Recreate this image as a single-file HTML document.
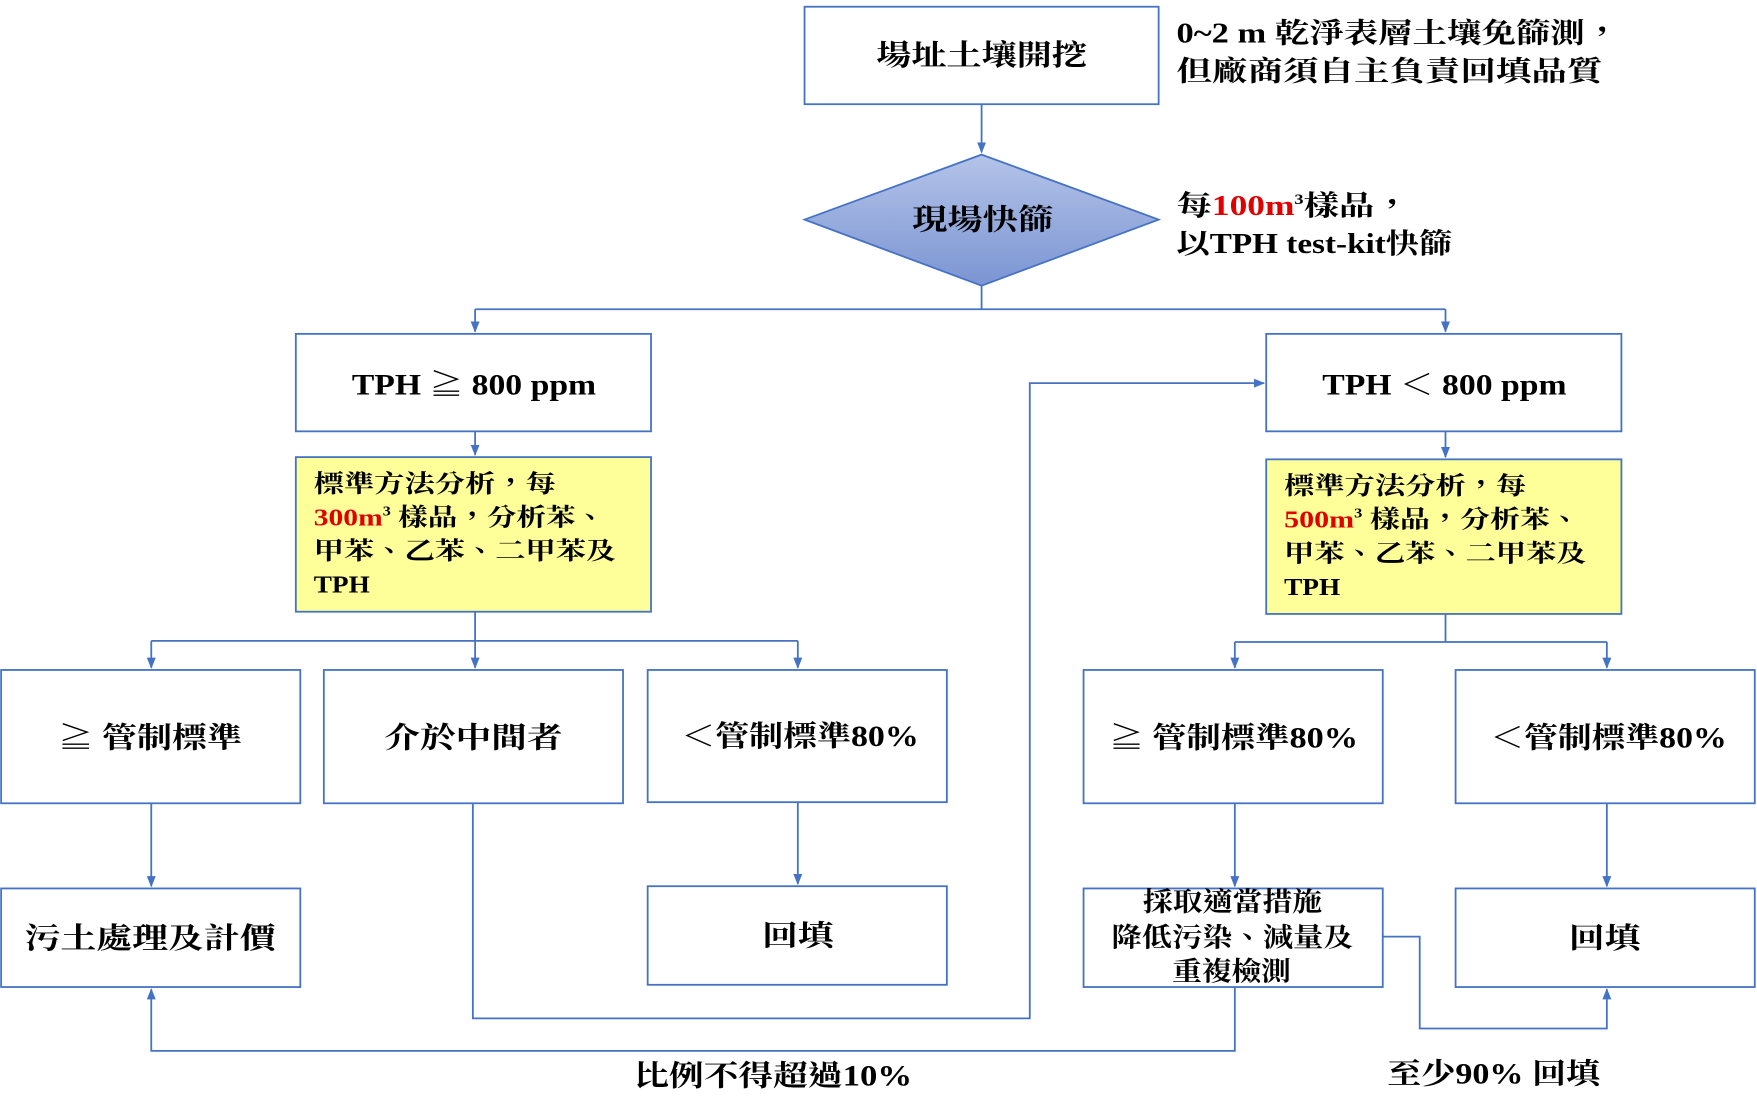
<!DOCTYPE html>
<html><head><meta charset="utf-8"><style>
html,body{margin:0;padding:0;background:#fff;}
svg{display:block;}
text{font-family:"Liberation Serif","Noto Serif CJK TC","Noto Serif CJK SC",serif;font-weight:bold;fill:#000;}
</style></head><body>
<svg width="1757" height="1117" viewBox="0 0 1568 997" preserveAspectRatio="none" xmlns="http://www.w3.org/2000/svg">
<defs>
<marker id="a" markerWidth="10" markerHeight="10" refX="9" refY="5" orient="auto" markerUnits="userSpaceOnUse">
<path d="M0,1 L10,5 L0,9 z" fill="#4472c4"/></marker>
<linearGradient id="g" x1="0" y1="0" x2="0" y2="1"><stop offset="0" stop-color="#b4c3e8"/><stop offset="1" stop-color="#7b95d3"/></linearGradient>
</defs>
<g fill="none" stroke="#4472c4" stroke-width="1.6">
<rect x="718" y="6" width="316" height="87" fill="#fff"/>
<polygon points="876,138 1034,196 876,255 718,196" fill="url(#g)"/>
<rect x="264" y="298" width="317" height="87"/>
<rect x="1130" y="298" width="317" height="87"/>
<rect x="264" y="408" width="317" height="138" fill="#ffff99"/>
<rect x="1130" y="410" width="317" height="138" fill="#ffff99"/>
<rect x="1" y="598" width="267" height="119"/>
<rect x="289" y="598" width="267" height="119"/>
<rect x="578" y="598" width="267" height="118"/>
<rect x="967" y="598" width="267" height="119"/>
<rect x="1299" y="598" width="267" height="119"/>
<rect x="1" y="793" width="267" height="88"/>
<rect x="578" y="791" width="267" height="88"/>
<rect x="967" y="793" width="267" height="88"/>
<rect x="1299" y="793" width="267" height="88"/>
<path d="M876,93 V136" marker-end="url(#a)"/>
<path d="M876,255 V276 M424,276 H1290"/>
<path d="M424,276 V296" marker-end="url(#a)"/>
<path d="M1290,276 V296" marker-end="url(#a)"/>
<path d="M424,385 V406" marker-end="url(#a)"/>
<path d="M1290,385 V408" marker-end="url(#a)"/>
<path d="M424,546 V572 M135,572 H712"/>
<path d="M135,572 V596" marker-end="url(#a)"/>
<path d="M424,572 V596" marker-end="url(#a)"/>
<path d="M712,572 V596" marker-end="url(#a)"/>
<path d="M1290,548 V573 M1102,573 H1434"/>
<path d="M1102,573 V596" marker-end="url(#a)"/>
<path d="M1434,573 V596" marker-end="url(#a)"/>
<path d="M135,717 V791" marker-end="url(#a)"/>
<path d="M712,716 V789" marker-end="url(#a)"/>
<path d="M1102,717 V791" marker-end="url(#a)"/>
<path d="M1434,717 V791" marker-end="url(#a)"/>
<path d="M422,717 V909 H919 V342 H1128" marker-end="url(#a)"/>
<path d="M1102,881 V938 H135 V883" marker-end="url(#a)"/>
<path d="M1234,836 H1267 V918 H1434 V883" marker-end="url(#a)"/>
</g>
<g font-size="26" lengthAdjust="spacingAndGlyphs">
<text x="782" y="58" textLength="188" lengthAdjust="spacingAndGlyphs">場址土壤開挖</text>
<text x="814" y="205" textLength="126" lengthAdjust="spacingAndGlyphs">現場快篩</text>
<text x="314" y="352" textLength="218" lengthAdjust="spacingAndGlyphs">TPH ≧ 800 ppm</text>
<text x="1180" y="352" textLength="218" lengthAdjust="spacingAndGlyphs">TPH ＜ 800 ppm</text>
<text x="52" y="667" textLength="164" lengthAdjust="spacingAndGlyphs">≧ 管制標準</text>
<text x="343" y="667" textLength="159" lengthAdjust="spacingAndGlyphs">介於中間者</text>
<text x="608" y="666" textLength="212" lengthAdjust="spacingAndGlyphs">＜管制標準80%</text>
<text x="990" y="667" textLength="222" lengthAdjust="spacingAndGlyphs">≧ 管制標準80%</text>
<text x="1330" y="667" textLength="211" lengthAdjust="spacingAndGlyphs">＜管制標準80%</text>
<text x="22" y="846" textLength="224" lengthAdjust="spacingAndGlyphs">污土處理及計價</text>
<text x="680" y="844" textLength="64" lengthAdjust="spacingAndGlyphs">回填</text>
<text x="1400" y="846" textLength="64" lengthAdjust="spacingAndGlyphs">回填</text>
<text x="1020" y="813" font-size="24" textLength="160" lengthAdjust="spacingAndGlyphs">採取適當措施</text>
<text x="992" y="845" font-size="24" textLength="216" lengthAdjust="spacingAndGlyphs">降低污染、減量及</text>
<text x="1046" y="875" font-size="24" textLength="106" lengthAdjust="spacingAndGlyphs">重複檢測</text>
<text x="566" y="969" textLength="248" lengthAdjust="spacingAndGlyphs">比例不得超過10%</text>
<text x="1238" y="967" textLength="190" lengthAdjust="spacingAndGlyphs">至少90% 回填</text>
</g>
<g font-size="25">
<text x="1050" y="38" textLength="395" lengthAdjust="spacingAndGlyphs">0~2 m 乾淨表層土壤免篩測，</text>
<text x="1050" y="72" textLength="380" lengthAdjust="spacingAndGlyphs">但廠商須自主負責回填品質</text>
<text x="1050" y="192" textLength="208" lengthAdjust="spacingAndGlyphs">每<tspan fill="#e00000">100m</tspan><tspan font-size="13" dy="-10">3</tspan><tspan dy="10">樣品，</tspan></text>
<text x="1050" y="226" textLength="246" lengthAdjust="spacingAndGlyphs">以TPH test-kit快篩</text>
</g>
<g font-size="22">
<text x="280" y="439" textLength="216" lengthAdjust="spacingAndGlyphs">標準方法分析，每</text>
<text x="280" y="469" textLength="260" lengthAdjust="spacingAndGlyphs"><tspan fill="#e00000">300m</tspan><tspan font-size="12" dy="-9">3</tspan><tspan dy="9"> 樣品，分析苯、</tspan></text>
<text x="280" y="499" textLength="270" lengthAdjust="spacingAndGlyphs">甲苯、乙苯、二甲苯及</text>
<text x="280" y="529" textLength="50" lengthAdjust="spacingAndGlyphs">TPH</text>
<text x="1146" y="441" textLength="216" lengthAdjust="spacingAndGlyphs">標準方法分析，每</text>
<text x="1146" y="471" textLength="264" lengthAdjust="spacingAndGlyphs"><tspan fill="#e00000">500m</tspan><tspan font-size="12" dy="-9">3</tspan><tspan dy="9"> 樣品，分析苯、</tspan></text>
<text x="1146" y="501" textLength="270" lengthAdjust="spacingAndGlyphs">甲苯、乙苯、二甲苯及</text>
<text x="1146" y="531" textLength="50" lengthAdjust="spacingAndGlyphs">TPH</text>
</g>
</svg>
</body></html>
